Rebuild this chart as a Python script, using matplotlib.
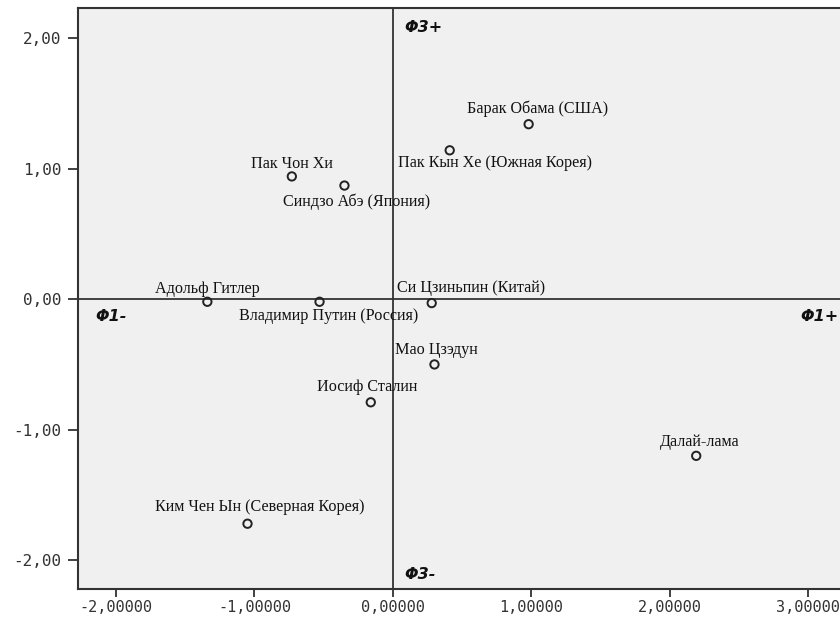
import matplotlib.pyplot as plt
from matplotlib.ticker import FuncFormatter

# coordenadas de cada persona (factor 1, factor 3)
nombres = ['Барак Обама (США)', 'Пак Кын Хе (Южная Корея)', 'Пак Чон Хи',
           'Синдзо Абэ (Япония)', 'Адольф Гитлер', 'Владимир Путин (Россия)',
           'Си Цзиньпин (Китай)', 'Мао Цзэдун', 'Иосиф Сталин',
           'Далай-лама', 'Ким Чен Ын (Северная Корея)']
f1 = [0.98, 0.41, -0.73, -0.35, -1.34, -0.53, 0.28, 0.30, -0.16, 2.19, -1.05]
f3 = [1.34, 1.14, 0.94, 0.87, -0.02, -0.02, -0.03, -0.50, -0.79, -1.20, -1.72]

# desplazamiento de la etiqueta respecto del punto (en pixeles)
desplaz = [(9, 15), (45, -13), (0, 12), (12, -16), (0, 13), (9, -14),
           (39, 15), (2, 14), (-4, 15), (3, 14), (12, 17)]

xticks = [-2, -1, 0, 1, 2, 3]
yticks = [-2, -1, 0, 1, 2]

fig = plt.figure(figsize=(8.4, 6.18), dpi=100)
ax = fig.add_axes([78/840, 29/618, 770/840, 581/618])
ax.set_facecolor('#f0f0f0')

ax.axhline(0, color='#333333', lw=1.3, zorder=1)
ax.axvline(0, color='#333333', lw=1.3, zorder=1)

ax.scatter(f1, f3, s=36, facecolors='none', edgecolors='#222222', linewidths=1.4, zorder=3)

for nombre, x, y, (dx, dy) in zip(nombres, f1, f3, desplaz):
    ax.annotate(nombre, (x, y), xytext=(dx*0.72, dy*0.72), textcoords='offset points',
                ha='center', va='center', fontsize=11.6, family='Liberation Serif', color='#111111')

# etiquetas de los ejes
fuente = dict(fontsize=11.5, fontweight='bold', fontstyle='italic', family='DejaVu Sans', color='#111111')
ax.text(0.08, 2.08, 'Φ3+', ha='left', va='center', **fuente)
ax.text(0.08, -2.11, 'Φ3-', ha='left', va='center', **fuente)
ax.text(-2.15, -0.13, 'Φ1-', ha='left', va='center', **fuente)
ax.text(3.22, -0.13, 'Φ1+', ha='right', va='center', **fuente)

ax.set_xlim(-2.274, 3.286)
ax.set_ylim(-2.22, 2.23)
ax.set_xticks(xticks)
ax.set_yticks(yticks)
ax.xaxis.set_major_formatter(FuncFormatter(lambda v, p: ('%.5f' % v).replace('.', ',')))
ax.yaxis.set_major_formatter(FuncFormatter(lambda v, p: ('%.2f' % v).replace('.', ',')))
ax.tick_params(direction='out', length=7, width=1.3, color='#333333', pad=5,
               labelsize=11.5, labelcolor='#333333')
ax.tick_params(axis='x', length=6, pad=2, labelsize=11)
for lbl in ax.get_xticklabels() + ax.get_yticklabels():
    lbl.set_family('DejaVu Sans Mono')

for lado in ['left', 'bottom', 'top', 'right']:
    ax.spines[lado].set_color('#333333')
    ax.spines[lado].set_linewidth(1.5)

fig.savefig('out.png', dpi=100)
